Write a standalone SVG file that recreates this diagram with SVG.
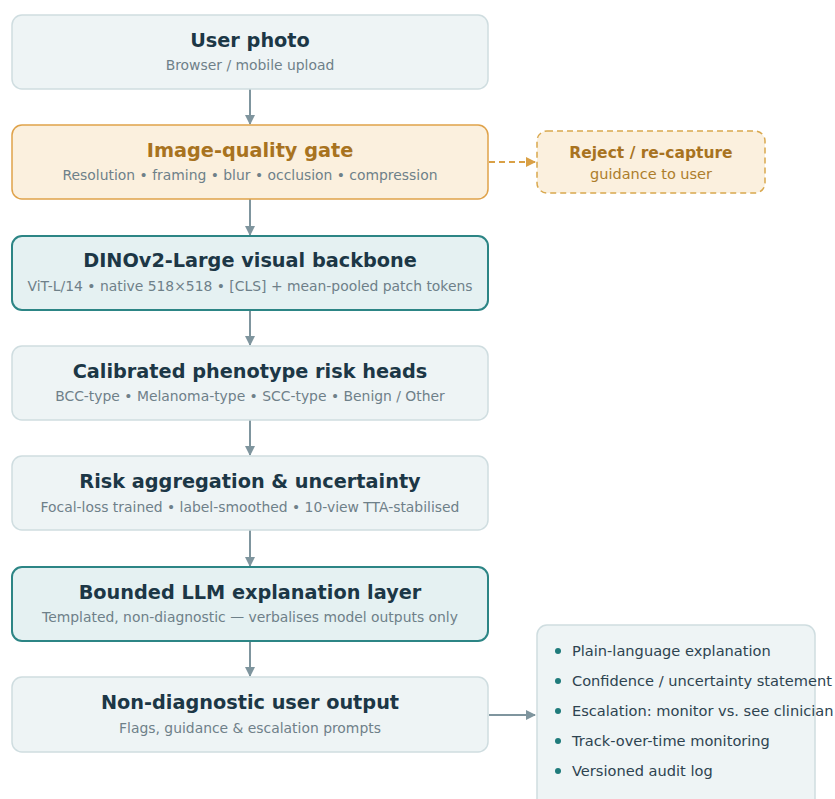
<svg xmlns="http://www.w3.org/2000/svg" width="835" height="799" viewBox="0 0 835 799">
<defs>
<marker id="ah" markerWidth="10" markerHeight="10" refX="9" refY="5" orient="auto" markerUnits="userSpaceOnUse"><path d="M0,0 L10,5 L0,10 z" fill="#7f959e"/></marker>
<marker id="aho" markerWidth="10" markerHeight="10" refX="9" refY="5" orient="auto" markerUnits="userSpaceOnUse"><path d="M0,0 L10,5 L0,10 z" fill="#d9a046"/></marker>
<style>
.box{fill:#eef4f5;stroke:#cfdde0;stroke-width:1.5}
.teal{fill:#e5f1f2;stroke:#2c8585;stroke-width:2}
.gate{fill:#fbf0de;stroke:#dfa24a;stroke-width:1.5}
.rej{fill:#fbf0de;stroke:#d9a84e;stroke-width:1.5;stroke-dasharray:6 4}
.t{font-family:"DejaVu Sans",sans-serif;font-weight:bold;font-size:19.3px;fill:#1c3746;text-anchor:middle}
.s{font-family:"DejaVu Sans",sans-serif;font-size:13.9px;fill:#6e8089;text-anchor:middle}
.tg{fill:#a8731f}
.sg{fill:#ad7d2b}
.b{font-family:"DejaVu Sans",sans-serif;font-size:14.6px;fill:#2d4350}
.dot{fill:#1f7b7b}
.c{stroke:#7f959e;stroke-width:2;fill:none}
</style>
</defs>
<rect width="835" height="799" fill="#ffffff"/>
<g id="connectors">
<line class="c" x1="250" y1="89" x2="250" y2="124" marker-end="url(#ah)"/>
<line class="c" x1="250" y1="199" x2="250" y2="235" marker-end="url(#ah)"/>
<line class="c" x1="250" y1="310" x2="250" y2="345" marker-end="url(#ah)"/>
<line class="c" x1="250" y1="420" x2="250" y2="455" marker-end="url(#ah)"/>
<line class="c" x1="250" y1="530" x2="250" y2="566" marker-end="url(#ah)"/>
<line class="c" x1="250" y1="641" x2="250" y2="676" marker-end="url(#ah)"/>
<line x1="489" y1="162" x2="535" y2="162" stroke="#d9a046" stroke-width="2" stroke-dasharray="6 4" marker-end="url(#aho)"/>
<line class="c" x1="489" y1="715" x2="535" y2="715" marker-end="url(#ah)"/>
</g>
<g id="n1"><rect class="box" x="12" y="15" width="476" height="74" rx="10"/><text class="t" x="250" y="47">User photo</text><text class="s" x="250" y="70">Browser / mobile upload</text></g>
<g id="n2"><rect class="gate" x="12" y="125" width="476" height="74" rx="10"/><text class="t tg" x="250" y="157">Image-quality gate</text><text class="s" x="250" y="180">Resolution • framing • blur • occlusion • compression</text></g>
<g id="n3"><rect class="teal" x="12" y="236" width="476" height="74" rx="10"/><text class="t" x="250" y="267">DINOv2-Large visual backbone</text><text class="s" x="250" y="291">ViT-L/14 • native 518×518 • [CLS] + mean-pooled patch tokens</text></g>
<g id="n4"><rect class="box" x="12" y="346" width="476" height="74" rx="10"/><text class="t" x="250" y="378">Calibrated phenotype risk heads</text><text class="s" x="250" y="401">BCC-type • Melanoma-type • SCC-type • Benign / Other</text></g>
<g id="n5"><rect class="box" x="12" y="456" width="476" height="74" rx="10"/><text class="t" x="250" y="488">Risk aggregation &amp; uncertainty</text><text class="s" x="250" y="512">Focal-loss trained • label-smoothed • 10-view TTA-stabilised</text></g>
<g id="n6"><rect class="teal" x="12" y="567" width="476" height="74" rx="10"/><text class="t" x="250" y="599">Bounded LLM explanation layer</text><text class="s" x="250" y="622">Templated, non-diagnostic — verbalises model outputs only</text></g>
<g id="n7"><rect class="box" x="12" y="677" width="476" height="75" rx="10"/><text class="t" x="250" y="709">Non-diagnostic user output</text><text class="s" x="250" y="733">Flags, guidance &amp; escalation prompts</text></g>
<g id="reject"><rect class="rej" x="537" y="131" width="228" height="62" rx="10"/><text class="t tg" x="651" y="158" style="font-size:15.5px">Reject / re-capture</text><text class="s sg" x="651" y="179" style="font-size:14.5px">guidance to user</text></g>
<g id="outputs"><rect class="box" x="537" y="625" width="278" height="185" rx="10"/>
<circle class="dot" cx="558" cy="651" r="3"/><text class="b" x="572" y="656">Plain-language explanation</text>
<circle class="dot" cx="558" cy="681" r="3"/><text class="b" x="572" y="686">Confidence / uncertainty statement</text>
<circle class="dot" cx="558" cy="711" r="3"/><text class="b" x="572" y="716">Escalation: monitor vs. see clinician</text>
<circle class="dot" cx="558" cy="741" r="3"/><text class="b" x="572" y="746">Track-over-time monitoring</text>
<circle class="dot" cx="558" cy="771" r="3"/><text class="b" x="572" y="776">Versioned audit log</text>
</g>
</svg>
